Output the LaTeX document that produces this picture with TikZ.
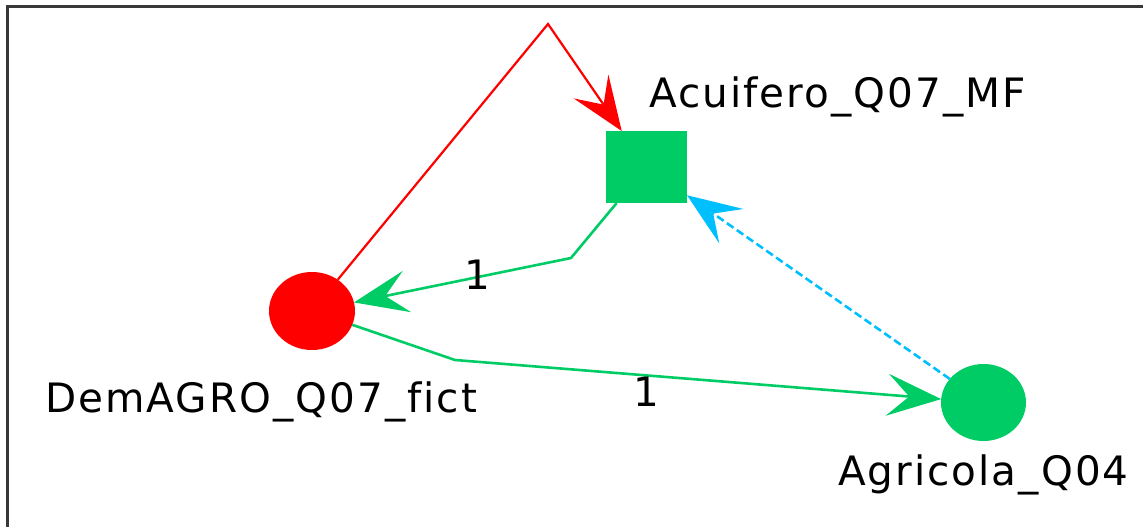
\documentclass[tikz,border=0pt]{standalone}
\usepackage{fontspec}
\setmainfont{DejaVu Sans}
\newfontfamily\lblfont[LetterSpace=5,Ligatures=CommonOff]{DejaVu Sans}
\usetikzlibrary{arrows.meta,positioning,shapes.geometric}
\definecolor{nodered}{RGB}{255,0,0}
\definecolor{nodegreen}{RGB}{0,204,102}
\definecolor{linkcyan}{RGB}{0,191,255}
\definecolor{framegray}{RGB}{56,56,56}

\begin{document}
\begin{tikzpicture}[x=1pt,y=-1pt,
    lbl/.style={font=\lblfont\fontsize{40.5}{42}\selectfont, inner sep=0pt, anchor=base west},
    weight/.style={font=\fontsize{40.5}{42}\selectfont, inner sep=0pt, anchor=base},
    link/.style={line width=2.6pt, -{Stealth[length=54pt,width=42pt,inset=22pt]}},
    dnode/.style={ellipse, fill=nodered, minimum width=86pt, minimum height=78pt, inner sep=0pt, outer sep=0pt}]
  \useasboundingbox (0,0) rectangle (1143,527);
  \draw[framegray, line width=3pt] (7,527) -- (7,7) -- (1143,7);
  % nodes
  \node[dnode] (dem) at (312,311) {};
  \node[rectangle, fill=nodegreen, minimum width=81pt, minimum height=72pt, inner sep=0pt, outer sep=0pt] (acu) at (646.5,167) {};
  \node[dnode, fill=nodegreen, minimum width=85pt, minimum height=77pt] (agr) at (983.5,402.5) {};
  \node[lbl] (acul) at (649,107) {Acuifero\_Q07\_MF};
  \node[lbl] (deml) at (45,412) {DemAGRO\_Q07\_fict};
  \node[lbl] (agrl) at (838,485) {Agricola\_Q04};
  % links
  \coordinate (redbend) at (548,24);
  \coordinate (g1bend) at (571,258);
  \coordinate (g2bend) at (455,360);
  \draw[link, nodered, line width=2.2pt] (dem) -- (redbend) -- (acu);
  \draw[link, nodegreen] (acu) -- (g1bend) -- (dem);
  \draw[link, nodegreen] (dem) -- (g2bend) -- (agr);
  \draw[link, linkcyan, dash pattern=on 8pt off 4pt] (agr) -- (acu);
  \node[weight] (w1) at (477,289) {1};
  \node[weight] (w2) at (646,406) {1};
\end{tikzpicture}
\end{document}
